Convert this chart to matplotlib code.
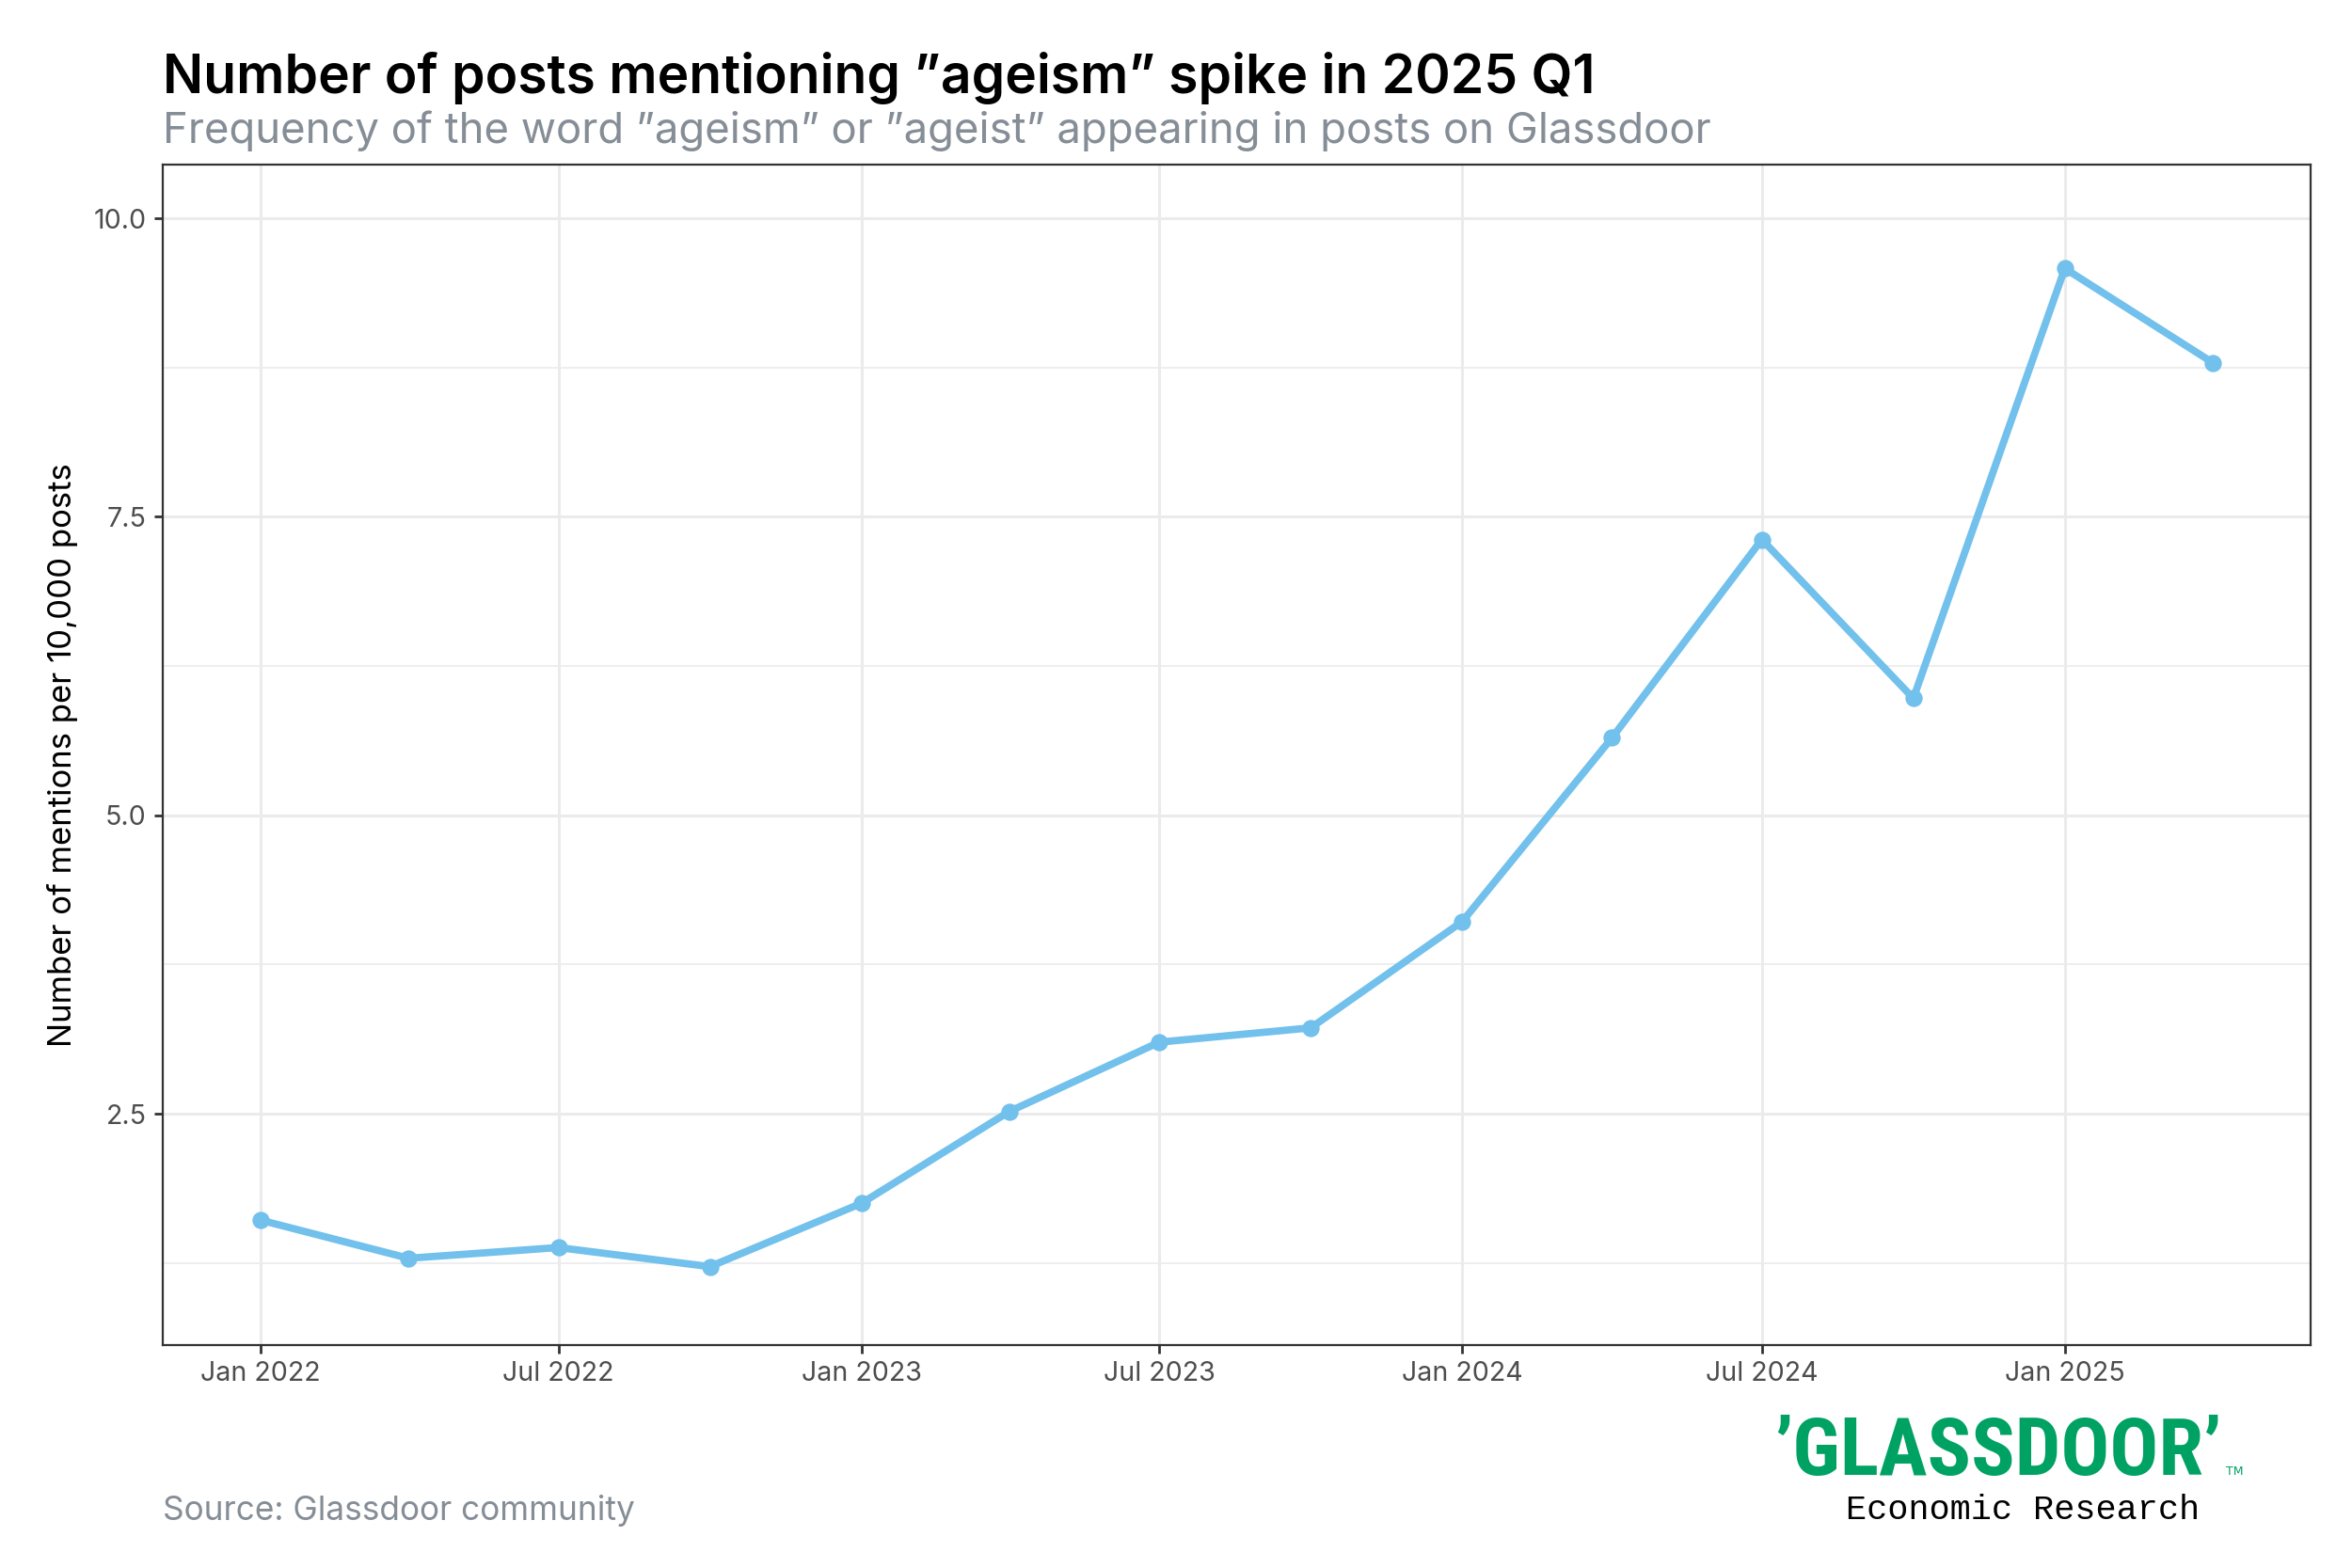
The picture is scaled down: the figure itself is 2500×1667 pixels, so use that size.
import numpy as np, pandas as pd
import matplotlib; matplotlib.use("Agg")
import matplotlib.pyplot as plt
import matplotlib.dates as mdates
from matplotlib import font_manager as fm

# quarterly mentions of "ageism"/"ageist" per 10,000 posts
quarters = ["2022-01-01", "2022-04-01", "2022-07-01", "2022-10-01",
            "2023-01-01", "2023-04-01", "2023-07-01", "2023-10-01",
            "2024-01-01", "2024-04-01", "2024-07-01", "2024-10-01",
            "2025-01-01", "2025-04-01"]
mentions = [1.61, 1.29, 1.38, 1.22, 1.75, 2.52, 3.10, 3.22,
            4.11, 5.65, 7.31, 5.98, 9.58, 8.79]
tick_dates = ["2022-01-01", "2022-07-01", "2023-01-01", "2023-07-01",
              "2024-01-01", "2024-07-01", "2025-01-01"]
y_major = [2.5, 5.0, 7.5, 10.0]
y_minor = [1.25, 3.75, 6.25, 8.75]

TITLE = "Number of posts mentioning \u201dageism\u201d spike in 2025 Q1"
SUBTITLE = "Frequency of the word \u201dageism\u201d or \u201dageist\u201d appearing in posts on Glassdoor"
YLABEL = "Number of mentions per 10,000 posts"
SOURCE = "Source: Glassdoor community"

BLUE = "#72C0EC"; GREY = "#858D96"; GRID = "#EBEBEB"; GREEN = "#00A263"
plt.rcParams["font.family"] = ["Inter", "DejaVu Sans"]

# pick a narrow face for the logo if one is around
have = {f.name for f in fm.fontManager.ttflist}
narrow = [f for f in ["Roboto Condensed", "Open Sans Condensed", "Liberation Sans Narrow",
                      "DejaVu Sans Condensed"] if f in have]
logo_family = narrow[0] if narrow else "DejaVu Sans"
logo_size = 31 if narrow else 27

x = pd.to_datetime(quarters)
fig = plt.figure(figsize=(12.5, 8.335), dpi=200)
ax = fig.add_axes([173/2500, 1-1430/1667, (2456-173)/2500, (1430-175)/1667])

ax.plot(x, mentions, color=BLUE, lw=2.8, marker="o", ms=5.6, zorder=3,
        solid_capstyle="round")

# ggplot-style 5% expansion on the date axis
span = x.max() - x.min()
ax.set_xlim(x.min() - span*0.05, x.max() + span*0.05)
ax.set_ylim(0.563, 10.45)

ax.set_xticks(pd.to_datetime(tick_dates))
ax.xaxis.set_major_formatter(mdates.DateFormatter("%b %Y"))
ax.set_yticks(y_major)
ax.set_yticklabels([f"{v:.1f}" for v in y_major])
ax.set_yticks(y_minor, minor=True)
ax.tick_params(axis="y", which="minor", length=0)
ax.tick_params(which="major", length=3.2, width=1.0, color="#333333",
               labelsize=10.3, labelcolor="#4D4D4D", pad=3)
ax.grid(which="major", color=GRID, lw=1.1, zorder=0)
ax.grid(which="minor", axis="y", color=GRID, lw=0.6, zorder=0)
ax.set_axisbelow(True)
for s in ax.spines.values():
    s.set_color("#333333"); s.set_linewidth(0.8)

ax.set_ylabel(YLABEL, fontsize=12.5, labelpad=6, color="black")

fig.text(173/2500, 1-99/1667, TITLE, fontsize=20.5, fontweight="semibold", ha="left", va="baseline")
fig.text(173/2500, 1-152/1667, SUBTITLE, fontsize=16.4, color=GREY, ha="left", va="baseline")
fig.text(173/2500, 1-1616/1667, SOURCE, fontsize=12.7, color=GREY, ha="left", va="baseline")

# Glassdoor logo block
fig.text(2362/2500, 1-1568/1667, "\u2019GLASSDOOR\u2019", fontsize=logo_size, fontweight="bold",
         color=GREEN, ha="right", va="baseline",
         family=[logo_family, "DejaVu Sans"], fontstretch="condensed")
fig.text(2366/2500, 1-1568/1667, "TM", fontsize=4.5, color=GREEN, ha="left", va="baseline",
         family=["DejaVu Sans"])
fig.text(2150/2500, 1-1615/1667, "Economic Research", fontsize=13.3, color="black",
         ha="center", va="baseline", family=["Liberation Mono", "DejaVu Sans Mono"])

fig.savefig("out.png", dpi=200, facecolor="white")
